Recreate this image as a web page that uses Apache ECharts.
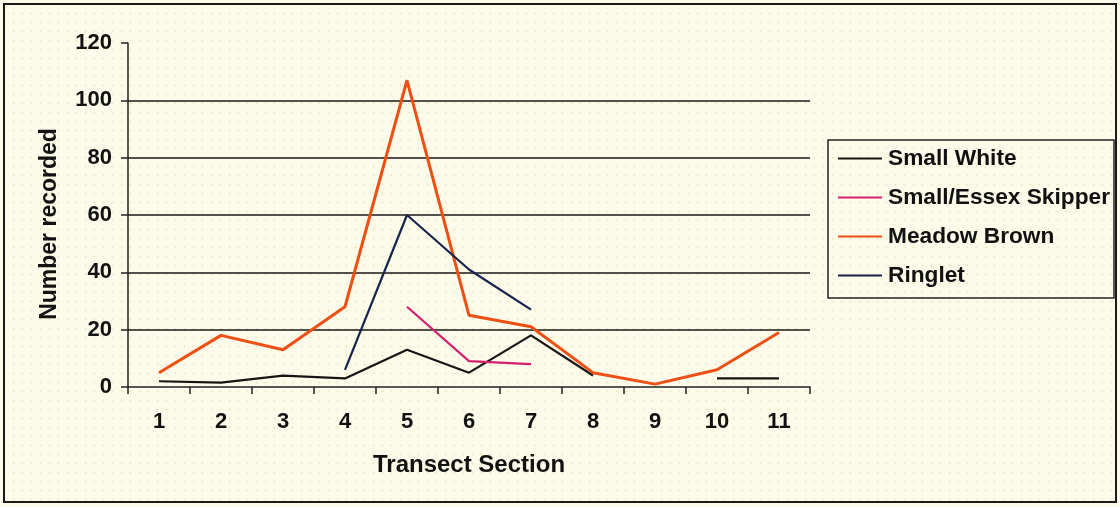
<!DOCTYPE html>
<html>
<head>
<meta charset="utf-8">
<script src="https://cdn.jsdelivr.net/npm/echarts@6/dist/echarts.min.js"></script>
<style>
  html, body { margin: 0; padding: 0; }
  body {
    width: 1120px; height: 507px;
    background-color: #fcfae8;
    background-image: radial-gradient(rgba(205, 190, 110, 0.35) 0.8px, transparent 1.2px);
    background-size: 9px 9px;
  }
  #frame {
    position: absolute; left: 3px; top: 3px; width: 1110px; height: 496px;
    border: 2px solid #1a1a1a;
  }
  #chart { position: absolute; left: 0; top: 0; width: 1120px; height: 507px; }
</style>
</head>
<body>
<div id="frame"></div>
<div id="chart"></div>
<script>
// Butterfly counts per transect section
const sections = ['1', '2', '3', '4', '5', '6', '7', '8', '9', '10', '11'];
const smallWhite = [2, 1.5, 4, 3, 13, 5, 18, 4, null, 3, 3];
const essexSkipper = [null, null, null, null, 28, 9, 8, null, null, null, null];
const meadowBrown = [5, 18, 13, 28, 107, 25, 21, 5, 1, 6, 19];
const ringlet = [null, null, null, 6, 60, 41, 27, null, null, null, null];

const FONT = 'Liberation Sans, Arial, sans-serif';
const INK = '#111';

const chart = echarts.init(document.getElementById('chart'), null, { renderer: 'canvas' });

function lineSeries(name, data, color, width) {
  return {
    name: name,
    type: 'line',
    data: data,
    connectNulls: false,
    showSymbol: false,
    symbol: 'none',
    lineStyle: { color: color, width: width },
    itemStyle: { color: color },
    emphasis: { disabled: true },
    animation: false
  };
}

chart.setOption({
  animation: false,
  backgroundColor: 'transparent',
  grid: { left: 128, right: 310, top: 43, bottom: 120 },
  graphic: [
    // legend frame
    {
      type: 'rect',
      shape: { x: 828, y: 140, width: 286, height: 158 },
      style: { fill: 'transparent', stroke: '#222', lineWidth: 1.5 },
      silent: true
    },
    // y-axis title
    {
      type: 'text',
      x: 50,
      y: 224,
      rotation: Math.PI / 2,
      style: {
        text: 'Number recorded',
        fontFamily: FONT,
        fontSize: 23,
        fontWeight: 'bold',
        fill: INK,
        align: 'center',
        verticalAlign: 'middle'
      },
      silent: true
    }
  ],
  legend: {
    orient: 'vertical',
    left: 828,
    top: 140,
    padding: [7, 6, 13, 10],
    itemGap: 16,
    itemWidth: 44,
    itemHeight: 2,
    icon: 'rect',
    borderWidth: 0,
    textStyle: { fontFamily: FONT, fontSize: 22.7, fontWeight: 'bold', color: INK, padding: [0, 0, 0, 1] },
    data: ['Small White', 'Small/Essex Skipper', 'Meadow Brown', 'Ringlet']
  },
  xAxis: {
    type: 'category',
    data: sections,
    boundaryGap: true,
    name: 'Transect Section',
    nameLocation: 'middle',
    nameGap: 66,
    nameTextStyle: { fontFamily: FONT, fontSize: 24, fontWeight: 'bold', color: INK },
    axisLine: { lineStyle: { color: '#222', width: 1.5 } },
    axisTick: { show: true, alignWithLabel: false, length: 7, lineStyle: { color: '#222', width: 1.5 } },
    axisLabel: { fontFamily: FONT, fontSize: 22, fontWeight: 'bold', color: INK, margin: 24 },
    splitLine: { show: false }
  },
  yAxis: {
    type: 'value',
    min: 0,
    max: 120,
    interval: 20,
    axisLine: { show: true, lineStyle: { color: '#222', width: 1.5 } },
    axisTick: { show: true, length: 7, lineStyle: { color: '#222', width: 1.5 } },
    axisLabel: { fontFamily: FONT, fontSize: 22, fontWeight: 'bold', color: INK, margin: 16 },
    splitLine: {
      show: true,
      lineStyle: {
        color: ['transparent', '#1a1a1a', '#1a1a1a', '#1a1a1a', '#1a1a1a', '#1a1a1a', 'transparent'],
        width: 1.6
      }
    }
  },
  series: [
    lineSeries('Small White', smallWhite, '#151515', 2.2),
    lineSeries('Small/Essex Skipper', essexSkipper, '#d3206e', 2.2),
    lineSeries('Meadow Brown', meadowBrown, '#ee4f14', 3),
    lineSeries('Ringlet', ringlet, '#16234f', 2.2)
  ]
});
</script>
</body>
</html>
